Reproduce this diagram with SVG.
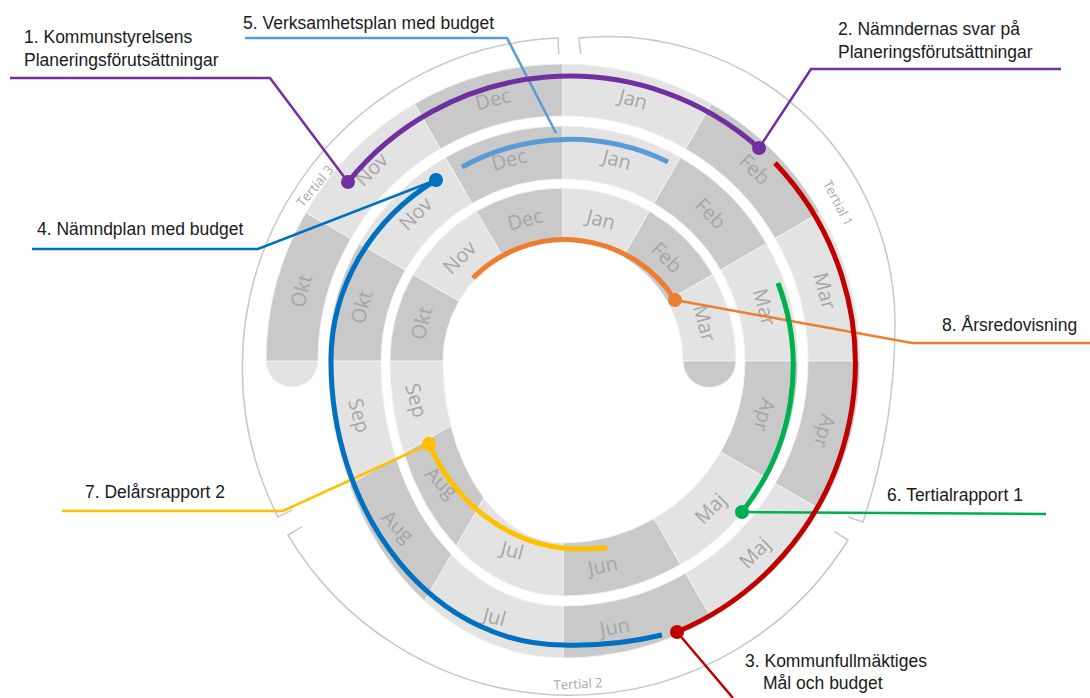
<svg xmlns="http://www.w3.org/2000/svg" width="1090" height="698" viewBox="0 0 1090 698">
<style>
.d{fill:#c9c9c9;stroke:#f4f4f4;stroke-width:0.8}
.l{fill:#e3e3e3;stroke:#f4f4f4;stroke-width:0.8}
.m{font-family:"Open Sans","Liberation Sans",sans-serif;font-size:20px;fill:#a6a6a6;text-anchor:middle}
.t{font-family:"Open Sans","Liberation Sans",sans-serif;font-size:13px;fill:#a8a8a8;text-anchor:middle}
.lbl{font-family:"Liberation Sans",Arial,sans-serif;font-size:17.5px;fill:#1a1a1a}
.tert{fill:none;stroke:#c8c8c8;stroke-width:1.5}
.arc{fill:none;stroke-width:5}
.ln{fill:none;stroke-width:2.5}
</style>
<defs>
<path id="sA" d="M297,0 A297,297 0 0 1 257.21,148.5 L212.18,122.5 A245,245 0 0 0 245,0 Z"/>
<path id="sB" d="M235,0 A235,235 0 0 1 203.52,117.5 L157.62,91 A182,182 0 0 0 182,0 Z"/>
<path id="sC" d="M173,0 A173,173 0 0 1 149.82,86.5 L103.92,60 A120,120 0 0 0 120,0 Z"/>
</defs>
<rect width="1090" height="698" fill="#ffffff"/>

<g id="spiral">
<path class="l" d="M266,361 A26,26 0 0 0 318,361 Z"/>
<use href="#sA" class="d" transform="translate(563 361) rotate(180)"/>
<use href="#sA" class="l" transform="translate(563 361) rotate(210)"/>
<use href="#sA" class="d" transform="translate(563 361) rotate(240)"/>
<use href="#sA" class="l" transform="translate(563 361) rotate(270)"/>
<use href="#sA" class="d" transform="translate(563 361) rotate(300)"/>
<use href="#sA" class="l" transform="translate(563 361) rotate(330)"/>
<use href="#sA" class="d" transform="translate(563 361) rotate(0)"/>
<use href="#sA" class="l" transform="translate(563 361) rotate(30)"/>
<use href="#sA" class="d" transform="translate(563 361) rotate(60)"/>
<path class="l" d="M563,658 A235,297 0 0 1 424.48,600.92 L451.31,554.44 A182,245 0 0 0 563,606 Z"/>
<path class="d" d="M424.48,600.92 A235,297 0 0 1 349.25,484.41 L395.73,457.57 A182,245 0 0 0 451.31,554.44 Z"/>
<path class="l" d="M349.25,484.41 A235,297 0 0 1 328,361 L381,361 A182,245 0 0 0 395.73,457.57 Z"/>
<use href="#sB" class="d" transform="translate(563 361) rotate(180)"/>
<use href="#sB" class="l" transform="translate(563 361) rotate(210)"/>
<use href="#sB" class="d" transform="translate(563 361) rotate(240)"/>
<use href="#sB" class="l" transform="translate(563 361) rotate(270)"/>
<use href="#sB" class="d" transform="translate(563 361) rotate(300)"/>
<use href="#sB" class="l" transform="translate(563 361) rotate(330)"/>
<use href="#sB" class="d" transform="translate(563 361) rotate(0)"/>
<use href="#sB" class="l" transform="translate(563 361) rotate(30)"/>
<use href="#sB" class="d" transform="translate(563 361) rotate(60)"/>
<path class="l" d="M563,596 A173,235 0 0 1 456.24,545.91 L483.95,497.93 A120,182 0 0 0 563,543 Z"/>
<path class="d" d="M456.24,545.91 A173,235 0 0 1 403.78,452.92 L450.85,425.75 A120,182 0 0 0 483.95,497.93 Z"/>
<path class="l" d="M403.78,452.92 A173,235 0 0 1 390,361 L443,361 A120,182 0 0 0 450.85,425.75 Z"/>
<use href="#sC" class="d" transform="translate(563 361) rotate(180)"/>
<use href="#sC" class="l" transform="translate(563 361) rotate(210)"/>
<use href="#sC" class="d" transform="translate(563 361) rotate(240)"/>
<use href="#sC" class="l" transform="translate(563 361) rotate(270)"/>
<use href="#sC" class="d" transform="translate(563 361) rotate(300)"/>
<use href="#sC" class="l" transform="translate(563 361) rotate(330)"/>
<path class="d" d="M683,361 A26.5,26.5 0 0 0 736,361 Z"/>
</g>

<g id="months">
<text class="m" dy="7" transform="translate(563 361) rotate(195) translate(271 0) rotate(90)">Okt</text>
<text class="m" dy="7" transform="translate(563 361) rotate(225) translate(271 0) rotate(90)">Nov</text>
<text class="m" dy="7" transform="translate(563 361) rotate(255) translate(271 0) rotate(90)">Dec</text>
<text class="m" dy="7" transform="translate(563 361) rotate(285) translate(271 0) rotate(90)">Jan</text>
<text class="m" dy="7" transform="translate(563 361) rotate(315) translate(271 0) rotate(90)">Feb</text>
<text class="m" dy="7" transform="translate(563 361) rotate(345) translate(271 0) rotate(90)">Mar</text>
<text class="m" dy="7" transform="translate(563 361) rotate(15) translate(271 0) rotate(90)">Apr</text>
<text class="m" dy="7" transform="translate(563 361) rotate(45) translate(271 0) rotate(-90)">Maj</text>
<text class="m" dy="7" transform="translate(563 361) rotate(79) translate(271 0) rotate(-90)">Jun</text>
<text class="m" dy="7" transform="translate(563 361) rotate(105) translate(265 0) rotate(-90)">Jul</text>
<text class="m" dy="7" transform="translate(563 361) rotate(135) translate(234 0) rotate(-90)">Aug</text>
<text class="m" dy="7" transform="translate(563 361) rotate(165) translate(211 0) rotate(-90)">Sep</text>
<text class="m" dy="7" transform="translate(563 361) rotate(195) translate(208.5 0) rotate(90)">Okt</text>
<text class="m" dy="7" transform="translate(563 361) rotate(225) translate(208.5 0) rotate(90)">Nov</text>
<text class="m" dy="7" transform="translate(563 361) rotate(255) translate(208.5 0) rotate(90)">Dec</text>
<text class="m" dy="7" transform="translate(563 361) rotate(285) translate(208.5 0) rotate(90)">Jan</text>
<text class="m" dy="7" transform="translate(563 361) rotate(315) translate(208.5 0) rotate(90)">Feb</text>
<text class="m" dy="7" transform="translate(563 361) rotate(345) translate(208.5 0) rotate(90)">Mar</text>
<text class="m" dy="7" transform="translate(563 361) rotate(15) translate(208.5 0) rotate(90)">Apr</text>
<text class="m" dy="7" transform="translate(563 361) rotate(45) translate(208.5 0) rotate(-90)">Maj</text>
<text class="m" dy="7" transform="translate(563 361) rotate(79) translate(208.5 0) rotate(-90)">Jun</text>
<text class="m" dy="7" transform="translate(563 361) rotate(105) translate(196 0) rotate(-90)">Jul</text>
<text class="m" dy="7" transform="translate(563 361) rotate(135) translate(172 0) rotate(-90)">Aug</text>
<text class="m" dy="7" transform="translate(563 361) rotate(165) translate(152 0) rotate(-90)">Sep</text>
<text class="m" dy="7" transform="translate(563 361) rotate(195) translate(146.5 0) rotate(90)">Okt</text>
<text class="m" dy="7" transform="translate(563 361) rotate(225) translate(146.5 0) rotate(90)">Nov</text>
<text class="m" dy="7" transform="translate(563 361) rotate(255) translate(146.5 0) rotate(90)">Dec</text>
<text class="m" dy="7" transform="translate(563 361) rotate(285) translate(146.5 0) rotate(90)">Jan</text>
<text class="m" dy="7" transform="translate(563 361) rotate(315) translate(146.5 0) rotate(90)">Feb</text>
<text class="m" dy="7" transform="translate(563 361) rotate(345) translate(146.5 0) rotate(90)">Mar</text>
</g>

<g id="tertials">
<path class="tert" d="M580.6,54 L579,38 A287,287 0 0 1 895,323 A635,635 0 0 1 863,522 L847.8,517"/>
<path class="tert" d="M834.4,531.6 L848,540 A327.5,327.5 0 0 1 288,535 L301.8,526.8"/>
<path class="tert" d="M292.3,509.8 L278,517 A330,330 0 0 1 558,38 L558.7,54"/>
<text class="t" dy="4.5" transform="translate(315 186) rotate(-50)">Tertial 3</text>
<text class="t" dy="4.5" transform="translate(838 203) rotate(63)">Tertial 1</text>
<text class="t" dy="4.5" transform="translate(578 684) rotate(-3)">Tertial 2</text>
</g>

<g id="connectors">
<path class="ln" stroke="#7030a0" d="M10,78 L270,78 L348,182"/>
<path class="ln" stroke="#7030a0" d="M1061,69 L811,69 L759,148"/>
<path class="ln" stroke="#c00000" d="M677,632 L733,698"/>
<path class="ln" stroke="#0070c0" d="M32,249 L258,249 L436,180"/>
<path class="ln" stroke="#5b9bd5" d="M245,38 L507,38 L556,133"/>
<path class="ln" stroke="#00b050" d="M742,512 L1046,514"/>
<path class="ln" stroke="#ffc000" d="M62,511 L283,511 L429,444"/>
<path class="ln" stroke="#ed7d31" d="M675,300 L912,343 L1090,343"/>
</g>

<g id="highlights">
<path class="arc" stroke="#7030a0" d="M348,182 A285,285 0 0 1 759,148"/>
<path class="arc" stroke="#c00000" d="M775,163 A291,291 0 0 1 677,632"/>
<path class="arc" stroke="#0070c0" d="M436,180 A232,216 0 0 0 331,361 A232,284 0 0 0 563,645 A330,284 0 0 0 662,635"/>
<path class="arc" stroke="#5b9bd5" d="M462,167 A224,224 0 0 1 668,162"/>
<path class="arc" stroke="#ed7d31" d="M473,278 A130,130 0 0 1 675,300"/>
<path class="arc" stroke="#00b050" d="M778,283 A234,234 0 0 1 742,512"/>
<path class="arc" stroke="#ffc000" d="M429,444 A168.8,190 0 0 0 580,549 L607,548"/>
<circle cx="348" cy="182" r="7" fill="#7030a0"/>
<circle cx="759" cy="148" r="7" fill="#7030a0"/>
<circle cx="677" cy="632" r="7" fill="#c00000"/>
<circle cx="436" cy="180" r="7" fill="#0070c0"/>
<circle cx="675" cy="300" r="7" fill="#ed7d31"/>
<circle cx="742" cy="512" r="7" fill="#00b050"/>
<circle cx="429" cy="444" r="7" fill="#ffc000"/>
</g>

<g id="label1"><text class="lbl" x="24" y="43">1. Kommunstyrelsens</text><text class="lbl" x="24" y="66">Planeringsförutsättningar</text></g>
<g id="label2"><text class="lbl" x="838" y="35">2. Nämndernas svar på</text><text class="lbl" x="838" y="58">Planeringsförutsättningar</text></g>
<g id="label3"><text class="lbl" x="745" y="667">3. Kommunfullmäktiges</text><text class="lbl" x="763" y="689">Mål och budget</text></g>
<g id="label4"><text class="lbl" x="37" y="235">4. Nämndplan med budget</text></g>
<g id="label5"><text class="lbl" x="243" y="29">5. Verksamhetsplan med budget</text></g>
<g id="label6"><text class="lbl" x="887" y="501">6. Tertialrapport 1</text></g>
<g id="label7"><text class="lbl" x="85" y="498">7. Delårsrapport 2</text></g>
<g id="label8"><text class="lbl" x="942" y="331">8. Årsredovisning</text></g>
</svg>
